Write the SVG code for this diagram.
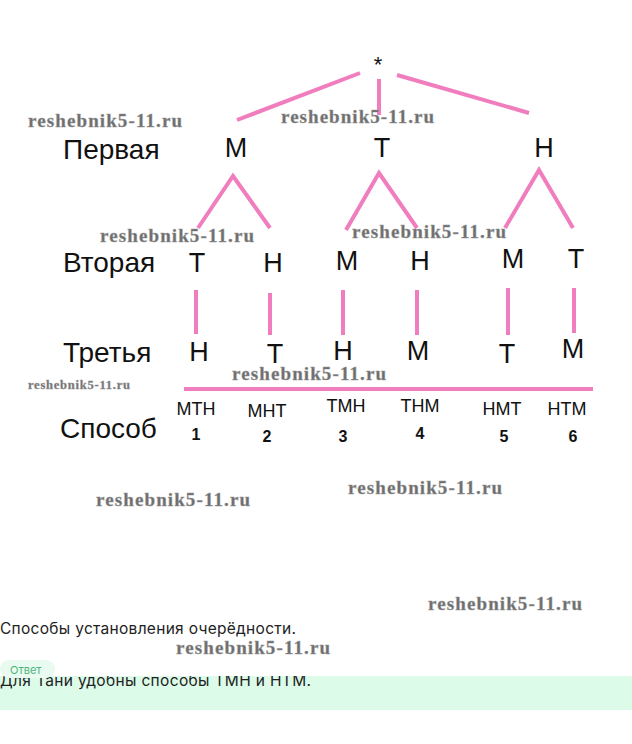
<svg xmlns="http://www.w3.org/2000/svg" width="632" height="744" viewBox="0 0 632 744">
<style>
.lbl{font-family:"Liberation Sans",Arial,sans-serif;font-size:28px;fill:#111}
.nd{font-family:"Liberation Sans",Arial,sans-serif;font-size:27px;fill:#111;text-anchor:middle}
.way{font-family:"Liberation Sans",Arial,sans-serif;font-size:18px;fill:#111;text-anchor:middle}
.num{font-family:"Liberation Sans",Arial,sans-serif;font-size:16px;font-weight:bold;fill:#111;text-anchor:middle}
.edge{stroke:#f07dbd;stroke-width:4;stroke-linecap:butt;fill:none}
.wm{font-family:"Liberation Serif","Times New Roman",serif;font-size:19px;font-weight:bold;fill:#6e6e6e;stroke:#9a9a9a;stroke-width:0.4}
.body{font-family:Inter,"Noto Sans",sans-serif;font-size:15.5px;fill:#222}
</style>
<defs>
<clipPath id="ansclip"><rect x="0" y="676" width="632" height="40"/></clipPath>
</defs>
<rect width="632" height="744" fill="#fff"/>

<g id="connectors">
<line class="edge" x1="360" y1="73" x2="237" y2="120"/>
<line class="edge" x1="379" y1="79" x2="379" y2="115"/>
<line class="edge" x1="397" y1="75" x2="529" y2="113"/>
<polyline class="edge" points="198,228 233,176 270,228"/>
<polyline class="edge" points="346,230 379,173 417,228"/>
<polyline class="edge" points="505,228 539,170 573,228"/>
<line class="edge" x1="196" y1="290" x2="196" y2="334"/>
<line class="edge" x1="270" y1="293" x2="270" y2="335"/>
<line class="edge" x1="343" y1="290" x2="343" y2="335"/>
<line class="edge" x1="417" y1="290" x2="417" y2="335"/>
<line class="edge" x1="508" y1="288" x2="508" y2="335"/>
<line class="edge" x1="574" y1="288" x2="574" y2="333"/>
<line class="edge" x1="184" y1="389" x2="593" y2="389"/>
</g>

<g id="labels">
<text class="lbl" x="63" y="159">Первая</text>
<text class="lbl" x="63" y="272">Вторая</text>
<text class="lbl" x="63" y="362">Третья</text>
<text class="lbl" x="60" y="438">Способ</text>
</g>

<g id="root"><text x="378" y="72" font-family="Liberation Sans,Arial,sans-serif" font-size="22" text-anchor="middle" fill="#111">*</text></g>

<g id="n1-M"><text class="nd" x="236" y="157">М</text></g>
<g id="n1-T"><text class="nd" x="382" y="157">Т</text></g>
<g id="n1-H"><text class="nd" x="544" y="157">Н</text></g>

<g id="n2-MT"><text class="nd" x="197" y="272">Т</text></g>
<g id="n2-MH"><text class="nd" x="273" y="272">Н</text></g>
<g id="n2-TM"><text class="nd" x="347" y="270">М</text></g>
<g id="n2-TH"><text class="nd" x="420" y="270">Н</text></g>
<g id="n2-HM"><text class="nd" x="513" y="268">М</text></g>
<g id="n2-HT"><text class="nd" x="576" y="268">Т</text></g>

<g id="n3-MTH"><text class="nd" x="199" y="361">Н</text></g>
<g id="n3-MHT"><text class="nd" x="275" y="363">Т</text></g>
<g id="n3-TMH"><text class="nd" x="343" y="360">Н</text></g>
<g id="n3-THM"><text class="nd" x="418" y="360">М</text></g>
<g id="n3-HMT"><text class="nd" x="507" y="363">Т</text></g>
<g id="n3-HTM"><text class="nd" x="573" y="358">М</text></g>

<g id="way1"><text class="way" x="196" y="415">МТН</text><text class="num" x="196" y="440">1</text></g>
<g id="way2"><text class="way" x="267" y="417">МНТ</text><text class="num" x="267" y="442">2</text></g>
<g id="way3"><text class="way" x="346" y="412">ТМН</text><text class="num" x="343" y="442">3</text></g>
<g id="way4"><text class="way" x="420" y="412">ТНМ</text><text class="num" x="420" y="439">4</text></g>
<g id="way5"><text class="way" x="502" y="415">НМТ</text><text class="num" x="504" y="442">5</text></g>
<g id="way6"><text class="way" x="567" y="415">НТМ</text><text class="num" x="573" y="442">6</text></g>

<g id="watermarks">
<text class="wm" x="28" y="127" textLength="154">reshebnik5-11.ru</text>
<text class="wm" x="281" y="123" textLength="153">reshebnik5-11.ru</text>
<text class="wm" x="100" y="242" textLength="154">reshebnik5-11.ru</text>
<text class="wm" x="352" y="238" textLength="154">reshebnik5-11.ru</text>
<text class="wm" x="232" y="380" textLength="154">reshebnik5-11.ru</text>
<text class="wm" x="28" y="389" style="font-size:12.5px" textLength="102">reshebnik5-11.ru</text>
<text class="wm" x="96" y="506" textLength="154">reshebnik5-11.ru</text>
<text class="wm" x="348" y="494" textLength="154">reshebnik5-11.ru</text>
<text class="wm" x="428" y="610" textLength="154">reshebnik5-11.ru</text>
<text class="wm" x="176" y="654" textLength="154">reshebnik5-11.ru</text>
</g>

<g id="caption"><text class="body" x="0" y="634" textLength="296">Способы установления очерёдности.</text></g>

<g id="answer">
<rect x="0" y="676" width="632" height="34" fill="#dcfbe8"/>
<text class="body" x="0" y="686" textLength="311" clip-path="url(#ansclip)">Для Тани удобны способы ТМН и НТМ.</text>
<rect x="0" y="660" width="55" height="18" rx="9" fill="#e9fbf0"/>
<text x="10" y="674" font-family="Inter,'Noto Sans',sans-serif" font-size="11" fill="#49b57a">Ответ</text>
</g>
</svg>
